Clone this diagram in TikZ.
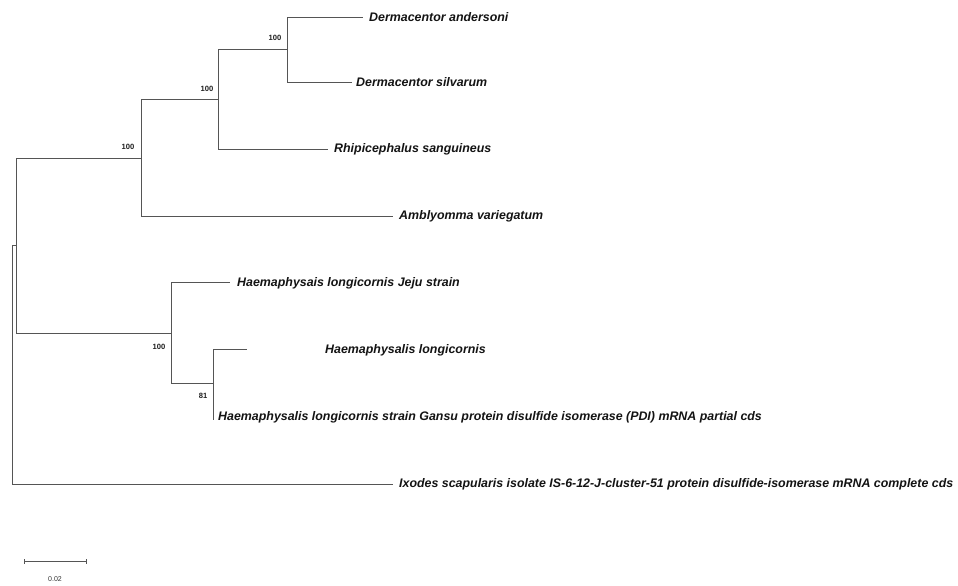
\documentclass[tikz,border=0pt]{standalone}
\usepackage{fontspec}
\setmainfont{Liberation Sans}
\begin{document}
\begin{tikzpicture}[x=1pt,y=-1pt,
  branch/.style={draw={rgb,255:red,85;green,85;blue,85},line width=0.8pt},
  taxon/.style={anchor=west,inner sep=0pt,text={rgb,255:red,20;green,20;blue,20},font=\fontsize{12.4}{14}\selectfont\bfseries\itshape},
  boot/.style={inner sep=0pt,text={rgb,255:red,30;green,30;blue,30},font=\fontsize{7.6}{9}\selectfont\bfseries},
  scalelab/.style={inner sep=0pt,text={rgb,255:red,50;green,50;blue,50},font=\fontsize{7}{8}\selectfont}]
\useasboundingbox[fill=white] (0,0) rectangle (958,586);
% internal nodes
\coordinate (root) at (12,364);
\coordinate (n1) at (16,245);
\coordinate (n2) at (141,158);
\coordinate (n3) at (218,99);
\coordinate (n4) at (287,49);
\coordinate (n5) at (171,333);
\coordinate (n6) at (213,383);
% leaf line ends
\coordinate (daE) at (363,17);
\coordinate (dsE) at (352,82);
\coordinate (rsE) at (328,149);
\coordinate (avE) at (393,216);
\coordinate (hjE) at (230,282);
\coordinate (hlE) at (247,349);
\coordinate (hgE) at (213,420);
\coordinate (ixE) at (393,484);
% labels
\node[taxon] (da) at (369,17) {Dermacentor andersoni};
\node[taxon] (ds) at (356,82) {Dermacentor silvarum};
\node[taxon] (rs) at (334,149) {Rhipicephalus sanguineus};
\node[taxon] (av) at (399,216) {Amblyomma variegatum};
\node[taxon] (hj) at (237,283) {Haemaphysais longicornis Jeju strain};
\node[taxon] (hl) at (325,350) {Haemaphysalis longicornis};
\node[taxon] (hg) at (218,417) {Haemaphysalis longicornis strain Gansu protein disulfide isomerase (PDI) mRNA partial cds};
\node[taxon] (ix) at (399,484) {Ixodes scapularis isolate IS-6-12-J-cluster-51 protein disulfide-isomerase mRNA complete cds};
% branches
\draw[branch] (root) |- (n1);
\draw[branch] (root) |- (ixE);
\draw[branch] (n1) |- (n2);
\draw[branch] (n1) |- (n5);
\draw[branch] (n2) |- (n3);
\draw[branch] (n2) |- (avE);
\draw[branch] (n3) |- (n4);
\draw[branch] (n3) |- (rsE);
\draw[branch] (n4) |- (daE);
\draw[branch] (n4) |- (dsE);
\draw[branch] (n5) |- (hjE);
\draw[branch] (n5) |- (n6);
\draw[branch] (n6) |- (hlE);
\draw[branch] (n6) |- (hgE);
% bootstrap values
\node[boot] (b4) at (275,38) {100};
\node[boot] (b3) at (207,89) {100};
\node[boot] (b2) at (128,147) {100};
\node[boot] (b5) at (159,347) {100};
\node[boot] (b6) at (203,396) {81};
% scale bar
\coordinate (sbL) at (24,561);
\coordinate (sbR) at (86,561);
\draw[branch,line width=0.8pt] (sbL) -- (sbR);
\draw[branch,line width=0.8pt] ([yshift=-2.5pt]sbL) -- ([yshift=2.5pt]sbL);
\draw[branch,line width=0.8pt] ([yshift=-2.5pt]sbR) -- ([yshift=2.5pt]sbR);
\node[scalelab] (sl) at (55,579) {0.02};
\end{tikzpicture}
\end{document}
